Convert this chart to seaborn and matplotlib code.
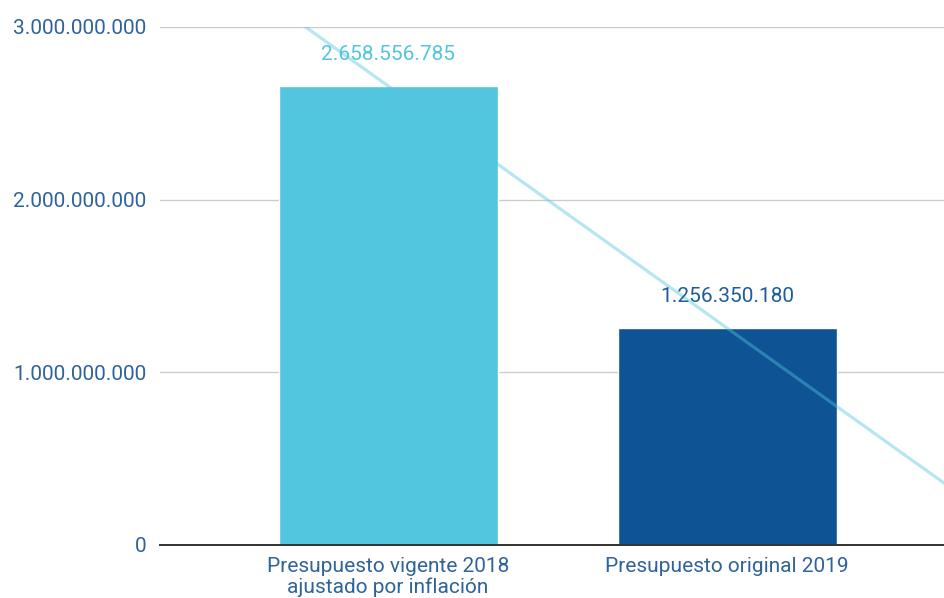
import numpy as np
import pandas as pd
import matplotlib
matplotlib.use("Agg")
import matplotlib.pyplot as plt
import seaborn as sns
from matplotlib.ticker import FuncFormatter

categories = ["Presupuesto vigente 2018\najustado por inflación", "Presupuesto original 2019"]
values = [2658556785, 1256350180]
yticks = [0, 1000000000, 2000000000, 3000000000]

bar_colors = ["#52C5DF", "#0E5394"]
label_colors = ["#52C5DF", "#1E5D98"]
text_blue = "#2F639B"

sns.set_theme(style="white")
plt.rcParams["font.family"] = ["Roboto", "DejaVu Sans"]

df = pd.DataFrame({"cat": categories, "val": values, "pos": [0, 1]})

fig = plt.figure(figsize=(9.45, 5.98), dpi=100)
ax = fig.add_axes([160 / 945, 53 / 598, 1 - 160 / 945, (545 - 27) / 598])

sns.barplot(data=df, x="cat", y="val", hue="cat", palette=bar_colors,
            width=0.646, legend=False, ax=ax, zorder=2, saturation=1)

ax.set_xlim(-0.673, 1.643)
ax.set_ylim(0, 3e9)

# trendline through the two bars
sns.regplot(data=df, x="pos", y="val", scatter=False, ci=None, truncate=False,
            ax=ax, line_kws=dict(color="#53C5DF", alpha=0.42, lw=2.3, zorder=3))

ax.set_yticks(yticks)
ax.yaxis.set_major_formatter(FuncFormatter(lambda v, p: f"{int(v):,}".replace(",", ".")))
ax.grid(axis="y", color="#CCCCCC", lw=1, zorder=0)
ax.set_axisbelow(True)
for s in ["top", "right", "left"]:
    ax.spines[s].set_visible(False)
ax.spines["bottom"].set_color("#333333")
ax.spines["bottom"].set_linewidth(1.4)
ax.spines["bottom"].set_zorder(4)

ax.tick_params(axis="y", length=0, pad=10, labelsize=15, labelcolor=text_blue)
ax.tick_params(axis="x", length=0, pad=9, labelsize=15, labelcolor=text_blue)
ax.set_xticks([0, 1])
ax.set_xticklabels(categories, linespacing=1.05)
ax.set_xlabel("")
ax.set_ylabel("")

for i, v in enumerate(values):
    ax.annotate(f"{v:,}".replace(",", "."), xy=(i, v), xytext=(0, 23),
                textcoords="offset points", ha="center", va="center",
                fontsize=15, color=label_colors[i], zorder=5)

fig.savefig("out.png", dpi=100)
